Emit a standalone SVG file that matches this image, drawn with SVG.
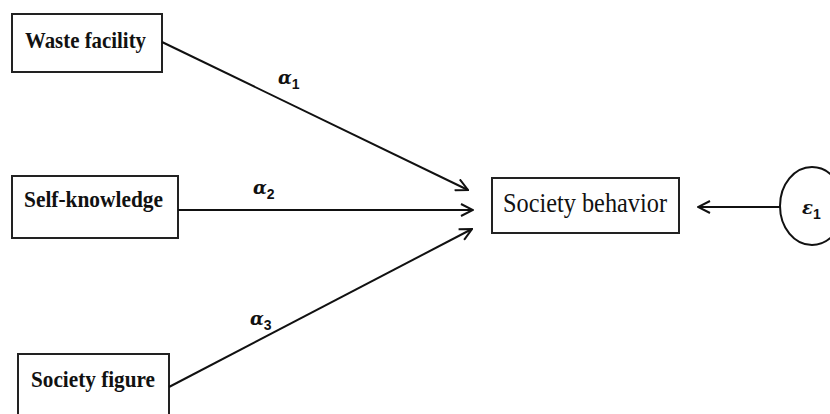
<svg xmlns="http://www.w3.org/2000/svg" width="830" height="414" viewBox="0 0 830 414">
<style>
.box{fill:#fff;stroke:#222;stroke-width:2}
.lbl{font-family:"Liberation Serif","Times New Roman",serif;font-size:24px;fill:#111}
.big{font-size:27px}
.b{font-weight:bold}
.edge{stroke:#111;stroke-width:2;fill:none;marker-end:url(#arr)}
.gr{font-family:"DejaVu Serif","Liberation Serif",serif;font-style:italic;font-weight:bold;font-size:18px;fill:#111}
.sub{font-family:"Liberation Sans",Arial,sans-serif;font-style:normal;font-size:14px;font-weight:bold}
</style>
<defs>
<marker id="arr" viewBox="0 0 14 14" refX="13" refY="7" markerWidth="14" markerHeight="14" markerUnits="userSpaceOnUse" orient="auto">
<path d="M1,1 L13,7 L1,13" fill="none" stroke="#111" stroke-width="2"/>
</marker>
</defs>
<rect width="830" height="414" fill="#fff"/>
<g id="waste">
<rect class="box" x="12" y="14" width="150" height="58"/>
<text class="lbl b" x="25" y="48" textLength="121" lengthAdjust="spacingAndGlyphs">Waste facility</text>
</g>
<g id="self">
<rect class="box" x="12" y="176" width="166" height="62"/>
<text class="lbl b" x="24" y="207" textLength="139" lengthAdjust="spacingAndGlyphs">Self-knowledge</text>
</g>
<g id="figure">
<rect class="box" x="18" y="354" width="151" height="70"/>
<text class="lbl b" x="31" y="387" textLength="124" lengthAdjust="spacingAndGlyphs">Society figure</text>
</g>
<g id="behavior">
<rect class="box" x="492" y="178" width="187" height="55"/>
<text class="lbl big" x="503" y="212" textLength="164" lengthAdjust="spacingAndGlyphs">Society behavior</text>
</g>
<g id="error">
<ellipse cx="812" cy="206" rx="32" ry="39" fill="#fff" stroke="#111" stroke-width="2"/>
<text class="gr" x="802" y="214">ε<tspan class="sub" dy="5">1</tspan></text>
</g>
<g id="connectors">
<line class="edge" x1="162" y1="42" x2="468" y2="190"/>
<line class="edge" x1="178" y1="210" x2="473" y2="210"/>
<line class="edge" x1="169" y1="387" x2="472" y2="229"/>
<line class="edge" x1="780" y1="207" x2="698" y2="207"/>
</g>
<g id="labels">
<text class="gr" x="278" y="84">α<tspan class="sub" dy="5">1</tspan></text>
<text class="gr" x="253" y="194">α<tspan class="sub" dy="5">2</tspan></text>
<text class="gr" x="250" y="325">α<tspan class="sub" dy="5">3</tspan></text>
</g>
</svg>
